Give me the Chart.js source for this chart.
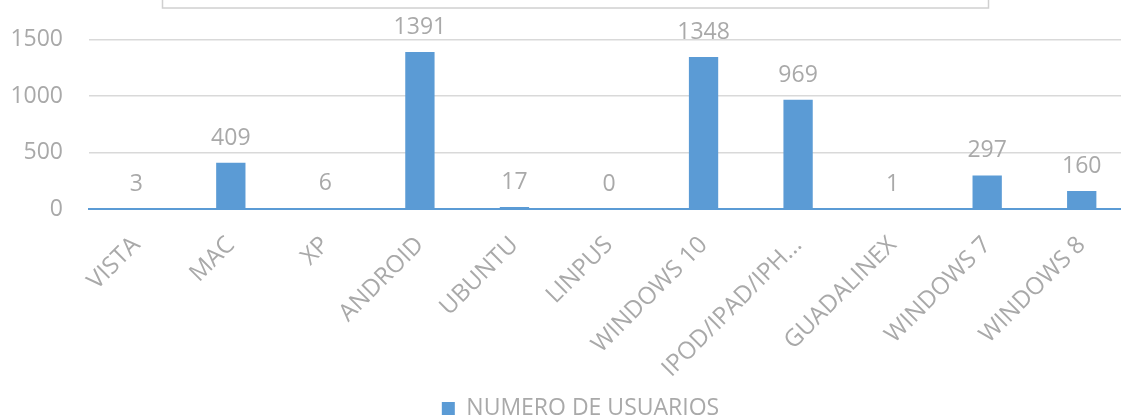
<!DOCTYPE html>
<html>
<head>
<meta charset="utf-8">
<script src="https://cdn.jsdelivr.net/npm/chart.js@4"></script>
<style>
  html, body { margin: 0; padding: 0; background: #ffffff; overflow: hidden; }
  #wrap { width: 1121px; height: 418px; position: relative; overflow: hidden; }
  #c { position: absolute; left: 0; top: 0; }
</style>
</head>
<body>
<div id="wrap"><canvas id="c" width="1129" height="430"></canvas></div>
<script>
const categories = ["VISTA", "MAC", "XP", "ANDROID", "UBUNTU", "LINPUS", "WINDOWS 10", "IPOD/IPAD/IPH...", "GUADALINEX", "WINDOWS 7", "WINDOWS 8"];
const usuarios = [3, 409, 6, 1391, 17, 0, 1348, 969, 1, 297, 160];
const seriesName = "NUMERO DE USUARIOS";
const yTicks = [0, 500, 1000, 1500];

const BLUE = '#5B9BD5';
const TEXT = '#A9A9A9';
const FONT = "'Open Sans', 'Liberation Sans', sans-serif";

const titleBox = {
  id: 'titleBox',
  beforeDraw(chart) {
    const ctx = chart.ctx;
    ctx.save();
    ctx.strokeStyle = '#D0D0D0';
    ctx.lineWidth = 1.5;
    ctx.strokeRect(162.5, -10, 826, 18);
    ctx.restore();
  }
};

const legendShift = {
  id: 'legendShift',
  afterLayout(chart) {
    if (chart.legend) {
      chart.legend.left += 16;
      chart.legend.right += 16;
    }
  }
};

const dataLabels = {
  id: 'dataLabels',
  afterDatasetsDraw(chart) {
    const ctx = chart.ctx;
    const meta = chart.getDatasetMeta(0);
    ctx.save();
    ctx.fillStyle = TEXT;
    ctx.font = "23px " + FONT;
    ctx.textAlign = 'center';
    ctx.textBaseline = 'alphabetic';
    meta.data.forEach((bar, i) => {
      ctx.fillText(String(chart.data.datasets[0].data[i]), bar.x, bar.y - 18);
    });
    ctx.restore();
  }
};

new Chart(document.getElementById('c'), {
  type: 'bar',
  data: {
    labels: categories,
    datasets: [{
      label: seriesName,
      data: usuarios,
      backgroundColor: BLUE,
      borderWidth: 0,
      barPercentage: 1,
      categoryPercentage: 0.31
    }]
  },
  options: {
    responsive: false,
    animation: false,
    layout: { padding: { top: 38, right: 0, left: 0, bottom: 0 } },
    plugins: {
      legend: {
        position: 'bottom',
        labels: {
          color: TEXT,
          font: { family: FONT, size: 23 },
          boxWidth: 13,
          boxHeight: 13,
          padding: 4
        }
      },
      tooltip: { enabled: false }
    },
    scales: {
      x: {
        afterFit(scale) { scale.height = 184; },
        grid: { display: false },
        border: { display: true, color: BLUE, width: 2 },
        ticks: {
          color: TEXT,
          font: { family: FONT, size: 24 },
          minRotation: 45,
          maxRotation: 45,
          autoSkip: false,
          padding: 14,
          labelOffset: 0
        }
      },
      y: {
        min: 0,
        max: 1500,
        afterBuildTicks(scale) { scale.ticks = yTicks.map(v => ({ value: v })); },
        afterFit(scale) { scale.width = 89; },
        grid: { color: '#D9D9D9', lineWidth: 1.5, drawTicks: false },
        border: { display: false },
        ticks: {
          color: TEXT,
          font: { family: FONT, size: 23 },
          padding: 26,
          callback: (v) => String(v)
        }
      }
    }
  },
  plugins: [titleBox, legendShift, dataLabels]
});
</script>
</body>
</html>
